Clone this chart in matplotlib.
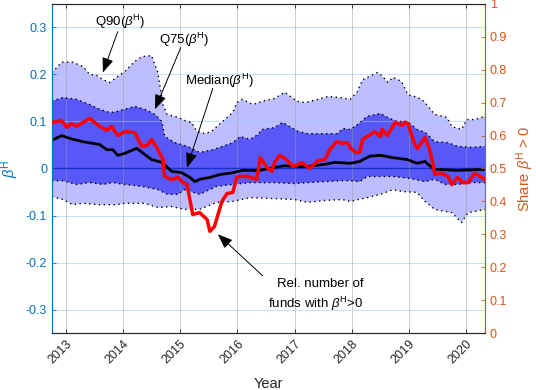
import numpy as np
import matplotlib
matplotlib.use("Agg")
import matplotlib.pyplot as plt

# Colours (MATLAB-like)
LEFT_COLOR = "#0072BD"
RIGHT_COLOR = "#D95319"
LIGHT_BAND = "#BDBDFF"
DARK_BAND = "#5858F8"

# Upper edge of the light band (90th percentile of beta^H)
q90_years = [2012.76, 2012.93, 2013.12, 2013.30, 2013.42, 2013.54, 2013.65, 2013.77, 2013.89,
             2014.03, 2014.21, 2014.33, 2014.50, 2014.61, 2014.70, 2014.77, 2014.96, 2015.12,
             2015.20, 2015.29, 2015.43, 2015.55, 2015.74, 2015.92, 2015.99, 2016.09, 2016.27,
             2016.44, 2016.65, 2016.83, 2017.04, 2017.18, 2017.41, 2017.58, 2017.79, 2017.97,
             2018.09, 2018.19, 2018.45, 2018.54, 2018.63, 2018.72, 2018.87, 2018.98, 2019.10,
             2019.22, 2019.28, 2019.45, 2019.66, 2019.75, 2019.92, 2020.01, 2020.15, 2020.33]
q90_upper = [0.204, 0.226, 0.226, 0.217, 0.200, 0.198, 0.189, 0.183, 0.194,
             0.206, 0.228, 0.238, 0.240, 0.204, 0.136, 0.115, 0.109, 0.100,
             0.098, 0.079, 0.074, 0.079, 0.100, 0.119, 0.140, 0.147, 0.136,
             0.143, 0.149, 0.162, 0.143, 0.140, 0.147, 0.153, 0.151, 0.147,
             0.162, 0.189, 0.204, 0.196, 0.183, 0.194, 0.185, 0.157, 0.153,
             0.147, 0.140, 0.115, 0.109, 0.089, 0.083, 0.104, 0.104, 0.111]

# Upper edge of the dark band (75th percentile)
q75_years = [2012.76, 2012.95, 2013.19, 2013.42, 2013.59, 2013.77, 2013.89, 2014.03, 2014.21,
             2014.38, 2014.56, 2014.68, 2014.73, 2014.91, 2015.13, 2015.34, 2015.57, 2015.74,
             2015.92, 2016.05, 2016.22, 2016.36, 2016.43, 2016.65, 2016.79, 2017.06, 2017.23,
             2017.53, 2017.74, 2017.85, 2017.97, 2018.11, 2018.27, 2018.50, 2018.62, 2018.79,
             2018.97, 2019.14, 2019.28, 2019.45, 2019.68, 2019.85, 2020.10, 2020.33]
q75_upper = [0.143, 0.151, 0.147, 0.136, 0.126, 0.119, 0.121, 0.126, 0.132,
             0.126, 0.115, 0.100, 0.068, 0.055, 0.047, 0.034, 0.040, 0.047,
             0.055, 0.068, 0.062, 0.072, 0.083, 0.087, 0.098, 0.079, 0.074,
             0.074, 0.074, 0.085, 0.083, 0.094, 0.111, 0.117, 0.109, 0.100,
             0.100, 0.083, 0.077, 0.057, 0.055, 0.047, 0.045, 0.047]

# Lower edge of the dark band (25th percentile)
q25_years = [2012.76, 2012.95, 2013.19, 2013.42, 2013.65, 2013.82, 2014.03, 2014.33, 2014.61,
             2014.78, 2014.96, 2015.08, 2015.34, 2015.64, 2015.92, 2016.22, 2016.65, 2017.00,
             2017.23, 2017.83, 2017.97, 2018.14, 2018.27, 2018.72, 2019.01, 2019.28, 2019.45,
             2019.63, 2019.85, 2020.10, 2020.33]
q25_lower = [-0.026, -0.026, -0.034, -0.030, -0.034, -0.030, -0.034, -0.038, -0.045,
             -0.055, -0.055, -0.045, -0.055, -0.038, -0.034, -0.030, -0.030, -0.032,
             -0.030, -0.026, -0.026, -0.028, -0.017, -0.017, -0.021, -0.028, -0.023,
             -0.034, -0.034, -0.030, -0.030]

# Lower edge of the light band (10th percentile)
q10_years = [2012.76, 2012.95, 2013.12, 2013.30, 2013.59, 2013.89, 2014.03, 2014.38, 2014.61,
             2014.85, 2015.08, 2015.34, 2015.64, 2015.92, 2016.22, 2016.65, 2017.00, 2017.23,
             2017.53, 2017.83, 2017.97, 2018.27, 2018.50, 2018.72, 2018.89, 2019.14, 2019.28,
             2019.45, 2019.75, 2019.92, 2020.03, 2020.33]
q10_lower = [-0.060, -0.066, -0.077, -0.074, -0.077, -0.077, -0.074, -0.074, -0.083,
             -0.081, -0.087, -0.087, -0.072, -0.070, -0.062, -0.064, -0.066, -0.072,
             -0.068, -0.066, -0.070, -0.062, -0.055, -0.045, -0.049, -0.051, -0.070,
             -0.087, -0.094, -0.115, -0.094, -0.087]

# Median of beta^H
median_years = [2012.76, 2012.93, 2013.07, 2013.30, 2013.59, 2013.72, 2013.82, 2013.91, 2014.03,
                2014.24, 2014.38, 2014.50, 2014.68, 2014.85, 2015.03, 2015.17, 2015.26, 2015.34,
                2015.52, 2015.69, 2015.92, 2016.09, 2016.39, 2016.65, 2016.83, 2017.00, 2017.23,
                2017.53, 2017.70, 2017.97, 2018.14, 2018.31, 2018.50, 2018.72, 2018.97, 2019.14,
                2019.28, 2019.33, 2019.45, 2019.85, 2020.33]
median_beta = [0.060, 0.070, 0.064, 0.057, 0.051, 0.040, 0.040, 0.028, 0.032,
               0.043, 0.030, 0.019, 0.013, -0.006, -0.009, -0.019, -0.028, -0.023,
               -0.019, -0.013, -0.009, -0.004, -0.004, 0.002, 0.006, 0.004, 0.004,
               0.009, 0.013, 0.011, 0.015, 0.026, 0.028, 0.023, 0.019, 0.011,
               0.015, 0.009, -0.002, -0.004, -0.002]

# Share of funds with beta^H > 0 (right axis)
share_years = [2012.76, 2012.93, 2013.02, 2013.10, 2013.19, 2013.42, 2013.59, 2013.72, 2013.80,
               2013.91, 2014.03, 2014.21, 2014.33, 2014.42, 2014.50, 2014.61, 2014.70, 2014.73,
               2014.85, 2014.96, 2015.05, 2015.12, 2015.17, 2015.22, 2015.34, 2015.47, 2015.52,
               2015.60, 2015.73, 2015.82, 2015.92, 2015.99, 2016.05, 2016.17, 2016.34, 2016.40,
               2016.52, 2016.60, 2016.65, 2016.74, 2016.86, 2016.97, 2017.13, 2017.27, 2017.41,
               2017.53, 2017.62, 2017.74, 2017.83, 2017.92, 2017.97, 2018.06, 2018.14, 2018.19,
               2018.40, 2018.50, 2018.53, 2018.62, 2018.76, 2018.88, 2018.92, 2018.98, 2019.10,
               2019.15, 2019.28, 2019.36, 2019.42, 2019.45, 2019.57, 2019.68, 2019.75, 2019.85,
               2019.94, 2020.03, 2020.15, 2020.27, 2020.33]
share_pos = [0.640, 0.646, 0.625, 0.637, 0.628, 0.652, 0.628, 0.616, 0.628,
             0.600, 0.612, 0.609, 0.567, 0.570, 0.588, 0.558, 0.527, 0.476,
             0.467, 0.473, 0.457, 0.451, 0.406, 0.360, 0.366, 0.345, 0.309,
             0.324, 0.400, 0.424, 0.427, 0.473, 0.476, 0.476, 0.467, 0.533,
             0.503, 0.491, 0.518, 0.540, 0.527, 0.506, 0.518, 0.500, 0.524,
             0.527, 0.558, 0.582, 0.576, 0.579, 0.564, 0.549, 0.549, 0.588,
             0.612, 0.597, 0.619, 0.600, 0.640, 0.631, 0.640, 0.637, 0.573,
             0.561, 0.594, 0.558, 0.512, 0.482, 0.485, 0.476, 0.451, 0.473,
             0.457, 0.457, 0.485, 0.473, 0.467]

year_ticks = [2013, 2014, 2015, 2016, 2017, 2018, 2019, 2020]
beta_ticks = [-0.3, -0.2, -0.1, 0, 0.1, 0.2, 0.3]
share_ticks = [0, 0.1, 0.2, 0.3, 0.4, 0.5, 0.6, 0.7, 0.8, 0.9, 1]

plt.rcParams["font.family"] = ["Liberation Sans", "DejaVu Sans"]
plt.rcParams["mathtext.fontset"] = "custom"
plt.rcParams["mathtext.rm"] = "Liberation Sans"
plt.rcParams["mathtext.it"] = "Liberation Sans:italic"
plt.rcParams["axes.unicode_minus"] = False

BETA_H = r"$\beta^{\mathrm{H}}$"


def to_share(beta):
    # the left axis value at the same height on the right axis
    return beta / 0.7 + 0.5


fig = plt.figure(figsize=(5.36, 3.90), dpi=100)
ax = fig.add_axes([0.097, 0.146, 0.808, 0.844])

# Bands
ax.fill(np.concatenate([q90_years, q10_years[::-1]]),
        np.concatenate([q90_upper, q10_lower[::-1]]),
        color=LIGHT_BAND, lw=0, zorder=1)
ax.fill(np.concatenate([q75_years, q25_years[::-1]]),
        np.concatenate([q75_upper, q25_lower[::-1]]),
        color=DARK_BAND, lw=0, zorder=2)
for xs, ys in [(q90_years, q90_upper), (q75_years, q75_upper),
               (q25_years, q25_lower), (q10_years, q10_lower)]:
    ax.plot(xs, ys, color="k", ls=(0, (1, 2.5)), lw=1.0, zorder=3)

ax.axhline(0, color="#1533C8", lw=1.0, zorder=4)
ax.plot(median_years, median_beta, color="k", lw=2.0, zorder=5)

ax.set_xlim(2012.76, 2020.33)
ax.set_ylim(-0.35, 0.35)
ax.set_xticks(year_ticks)
ax.set_xticklabels([str(y) for y in year_ticks], rotation=45, ha="right",
                   rotation_mode="anchor", fontsize=9, color="#262626")
ax.set_yticks(beta_ticks)
ax.set_yticklabels([f"{v:g}" for v in beta_ticks], fontsize=9, color=LEFT_COLOR)
ax.tick_params(axis="both", direction="in", length=3, width=0.6, top=True)
ax.tick_params(axis="y", colors=LEFT_COLOR)
ax.tick_params(axis="x", colors="#262626")
for lbl in ax.get_xticklabels():
    lbl.set_color("#262626")

ax.grid(axis="x", color="#9a9a9a", lw=0.7, alpha=0.5)
ax.grid(axis="y", color="#9ec9ea", lw=0.7, alpha=0.6)
ax.set_axisbelow(False)

ax.spines["left"].set_color(LEFT_COLOR)
ax.spines["right"].set_color(RIGHT_COLOR)
ax.spines["top"].set_color("#262626")
ax.spines["bottom"].set_color("#262626")

ax.set_ylabel(BETA_H, color=LEFT_COLOR, fontsize=10.5)
ax.yaxis.set_label_coords(-0.072, 0.5)
ax.set_xlabel("Year", color="#262626", fontsize=10.5)
ax.xaxis.set_label_coords(0.5, -0.135)

# Right axis: share of funds with positive beta
ax2 = ax.twinx()
ax2.plot(share_years, share_pos, color="#FF0000", lw=2.5, zorder=6)
ax2.set_ylim(0, 1)
ax2.set_yticks(share_ticks)
ax2.set_yticklabels([f"{v:g}" for v in share_ticks], fontsize=9, color=RIGHT_COLOR)
ax2.tick_params(axis="y", direction="in", length=3, width=0.6, colors=RIGHT_COLOR)
ax2.spines["right"].set_color(RIGHT_COLOR)
ax2.spines["left"].set_color(LEFT_COLOR)
ax2.spines["top"].set_color("#262626")
ax2.spines["bottom"].set_color("#262626")
ax2.set_ylabel("Share " + BETA_H + " > 0", color=RIGHT_COLOR, fontsize=10.5)
ax2.yaxis.set_label_coords(1.068, 0.5)

# Annotations
arrow = dict(arrowstyle="-|>,head_length=0.9,head_width=0.35", color="k",
             lw=0.7, mutation_scale=10, shrinkA=0, shrinkB=0)
ax2.annotate("", xy=(2013.65, to_share(0.204)), xytext=(2013.91, to_share(0.291)),
             arrowprops=arrow)
ax2.annotate("", xy=(2014.56, to_share(0.126)), xytext=(2015.01, to_share(0.257)),
             arrowprops=arrow)
ax2.annotate("", xy=(2015.12, to_share(0.002)), xytext=(2015.57, to_share(0.170)),
             arrowprops=arrow)
ax2.annotate("", xy=(2015.66, to_share(-0.140)), xytext=(2016.44, to_share(-0.228)),
             arrowprops=arrow)

ax.text(2013.96, 0.311, "Q90(" + BETA_H + ")", ha="center", va="center", fontsize=9.5)
ax.text(2015.08, 0.274, "Q75(" + BETA_H + ")", ha="center", va="center", fontsize=9.5)
ax.text(2015.69, 0.187, "Median(" + BETA_H + ")", ha="center", va="center", fontsize=9.5)
ax.text(2018.21, -0.27, "Rel. number of\nfunds with " + BETA_H + ">0",
        ha="right", va="center", fontsize=9.5, linespacing=1.35, multialignment="right")

fig.savefig("out.png", dpi=100)
